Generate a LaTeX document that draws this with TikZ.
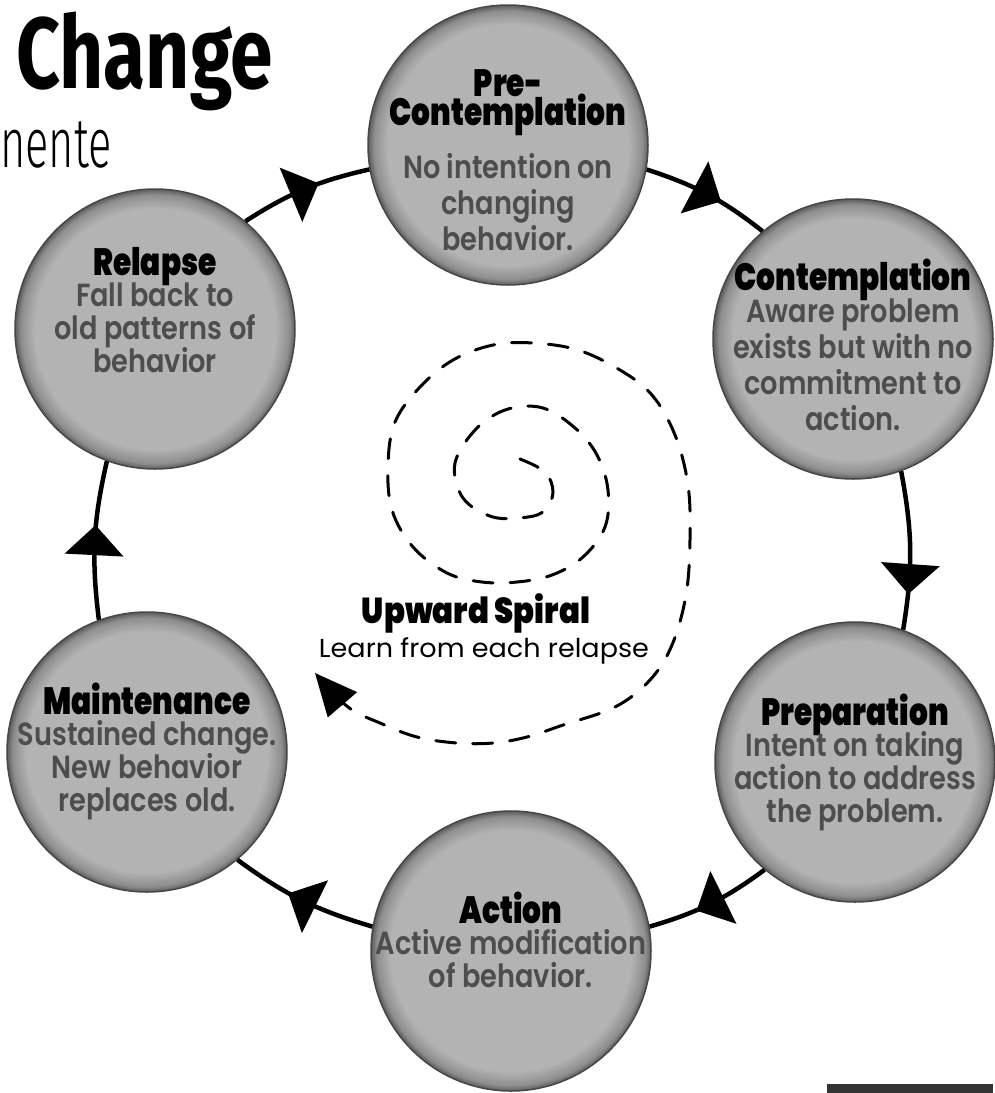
\documentclass[tikz,border=0pt]{standalone}
\usepackage{fontspec}
\usepackage{graphicx}
\usetikzlibrary{arrows.meta,decorations.markings}
\newfontfamily\titlef{Poppins Black}[FakeStretch=0.78]
\newfontfamily\bodyf{Poppins SemiBold}[FakeStretch=0.85]
\newfontfamily\regf{Poppins}[FakeStretch=0.95]
\newfontfamily\headf{Fira Sans}[FakeStretch=0.76]
\newfontfamily\lightf{Fira Sans Light}[FakeStretch=0.62]
\definecolor{discin}{HTML}{B3B3B3}
\definecolor{discmid}{HTML}{8E8E8E}
\definecolor{discout}{HTML}{5C5C5C}
\definecolor{discedge}{HTML}{474747}
\definecolor{bodygray}{HTML}{4D4D4D}
\pgfdeclareradialshading{disc}{\pgfpointorigin}{color(0bp)=(discin); color(21.5bp)=(discin); color(24bp)=(discmid); color(25bp)=(discout); color(50bp)=(discout)}
\newcommand\ttl{\titlef\fontsize{38}{30}\selectfont\color{black}}
\newcommand\tightlines{\lineskiplimit=-100pt\relax\lineskip=0pt\relax}
\newcommand\fitw[2]{\resizebox{#1pt}{\height}{#2}}
\begin{document}
\begin{tikzpicture}[x=1pt,y=-1pt,
  disc/.style={circle, minimum size=280pt, inner sep=0pt, shading=disc, draw=discedge, line width=1.5pt},
  txt/.style={align=center, inner sep=0pt, text=bodygray, font=\bodyf\fontsize{32}{33}\selectfont\tightlines},
  cyc/.style={line width=4.5pt, postaction={decorate}, decoration={markings, mark=at position #1 with {\arrow[xshift=15pt]{Triangle[width=58pt,length=30pt]}}}},
  cyc/.default=0.5,
  spiral/.style={line width=3pt, dash pattern=on 20pt off 17pt, line cap=round},
]
\useasboundingbox (0,0) rectangle (995,1093);
\fill[white] (0,0) rectangle (995,1093);

% heading
\node[anchor=base west, inner sep=0pt, font=\headf\bfseries\fontsize{101}{101}\selectfont] (head) at (16,88) {Change};
\node[anchor=base west, inner sep=0pt, font=\lightf\fontsize{70}{70}\selectfont] (sub) at (0,167) {nente};

% spiral
\draw[spiral, -{Triangle[width=38pt,length=42pt]}] plot[smooth, tension=0.6] coordinates {
 (520,459) (545,472) (553,492) (545,510) (528,517) (493,517) (463,498) (455,463) (477,428)
 (508,409) (543,408) (575,428) (597,455) (608,490) (605,527) (583,557) (552,575) (517,582)
 (482,582) (447,573) (413,547) (392,510) (388,465) (395,422) (420,387) (453,360) (493,345)
 (533,343) (578,350) (620,370) (652,395) (675,435) (688,485) (690,540) (686,595) (672,645)
 (650,680) (615,707) (563,725) (527,737) (493,743) (457,743) (417,737) (380,723) (348,707) (315,673)};
\node[anchor=base, inner sep=0pt, font=\titlef\fontsize{36}{36}\selectfont] (up) at (476,623) {\fitw{228}{Upward Spiral}};
\node[anchor=base, inner sep=0pt, font=\regf\fontsize{26}{26}\selectfont] (learn) at (484,657) {\fitw{330}{Learn from each relapse}};

% circles
\node[disc] (pre)  at (508,145) {};
\node[disc] (con)  at (853,339) {};
\node[disc] (prep) at (855,762) {};
\node[disc] (act)  at (511,951) {};
\node[disc] (main) at (147,752) {};
\node[disc] (rel)  at (155,329) {};

% cycle connectors
\draw[cyc] (pre.-10) to[bend left=10] (con.130);
\draw[cyc=0.68] (con.-70) to[bend left=10] (prep.70);
\draw[cyc] (prep.-130) to[bend left=10] (act.10);
\draw[cyc] (act.170) to[bend left=10] (main.-50);
\draw[cyc] (main.110) to[bend left=10] (rel.-110);
\draw[cyc] (rel.50) to[bend left=10] (pre.190);

% texts
\node[txt] (pret) at (508,160) {\ttl Pre-\\[-4pt]\ttl Contemplation\\[20pt]No intention on\\[3pt]changing\\[3pt]behavior.};
\node[txt] (cont) at (853,345) {\ttl Contemplation\\[-1pt]Aware problem\\[3pt]exists but with no\\[3pt]commitment to\\[3pt]action.};
\node[txt] (prept) at (855,762) {\ttl Preparation\\[-2pt]Intent on taking\\action to address\\the problem.};
\node[txt] (actt) at (511,940) {\ttl Action\\[-2pt]Active modification\\of behavior.};
\node[txt] (maint) at (147,751) {\ttl Maintenance\\[-2pt]Sustained change.\\New behavior\\replaces old.};
\node[txt] (relt) at (155,310) {\ttl Relapse\\[-2pt]Fall back to\\old patterns of\\behavior};

% bottom right mark
\fill[gray!40!black] (827,1084) rectangle (993,1093);
\end{tikzpicture}
\end{document}
